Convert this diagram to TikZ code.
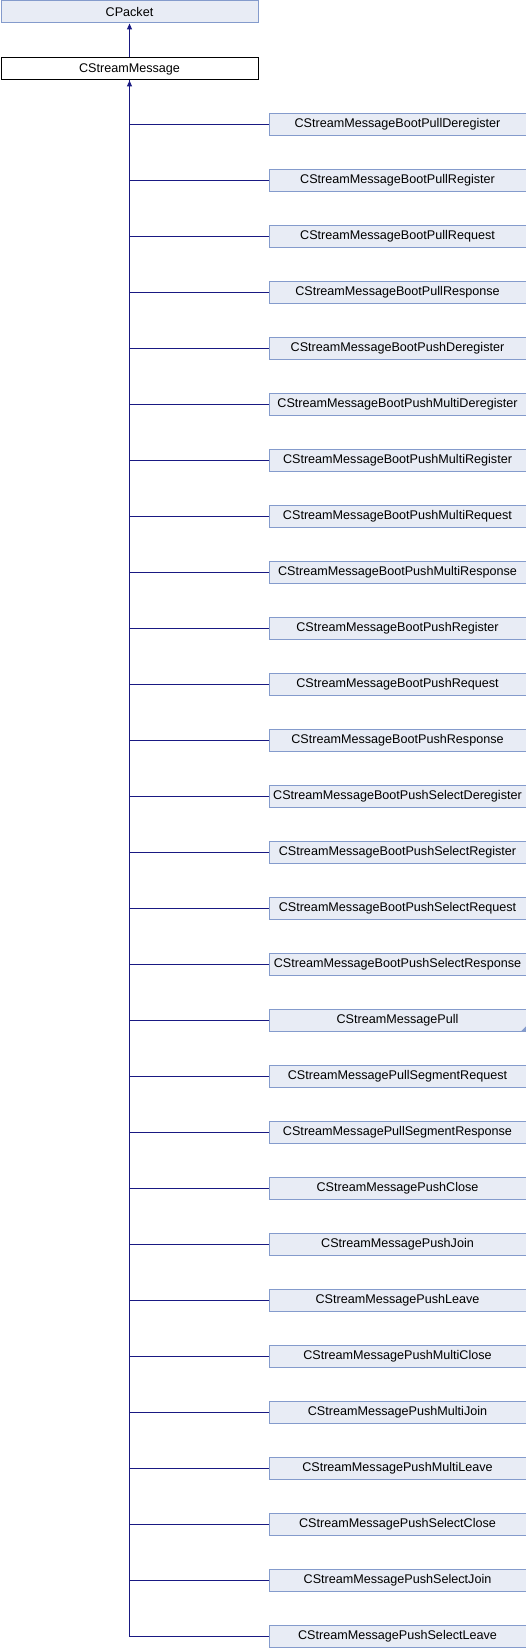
\documentclass[tikz,border=0pt]{standalone}
\usepackage{fontspec}
\setmainfont{Liberation Sans}
\usetikzlibrary{arrows.meta}
\definecolor{boxfill}{RGB}{232,236,245}
\definecolor{boxline}{RGB}{132,155,204}
\definecolor{edgecol}{RGB}{25,25,130}
\tikzset{
  cls/.style={draw=boxline, fill=boxfill, line width=1pt, minimum width=257pt, minimum height=22pt, inner sep=0pt, font=\fontsize{12.6}{14}\selectfont},
  cur/.style={draw=black, fill=white, line width=1pt, minimum width=257pt, minimum height=22pt, inner sep=0pt, font=\fontsize{12.6}{14}\selectfont},
  edge/.style={draw=edgecol, line width=1pt, -{Triangle[length=6pt,width=5pt]}},
  link/.style={draw=edgecol, line width=1pt}
}
\begin{document}
\begin{tikzpicture}[x=1pt,y=1pt]
\useasboundingbox (0,0) rectangle (526,-1648);
\node[cls, anchor=north west] (cp) at (0.5,-0.5) {CPacket};
\node[cur, anchor=north west] (sm) at (0.5,-57.5) {CStreamMessage};
\draw[edge] (sm.north) -- (cp.south);
\foreach \nm [count=\i from 0] in {BootPullDeregister,BootPullRegister,BootPullRequest,BootPullResponse,BootPushDeregister,BootPushMultiDeregister,BootPushMultiRegister,BootPushMultiRequest,BootPushMultiResponse,BootPushRegister,BootPushRequest,BootPushResponse,BootPushSelectDeregister,BootPushSelectRegister,BootPushSelectRequest,BootPushSelectResponse,Pull,PullSegmentRequest,PullSegmentResponse,PushClose,PushJoin,PushLeave,PushMultiClose,PushMultiJoin,PushMultiLeave,PushSelectClose,PushSelectJoin,PushSelectLeave}{
  \node[cls, anchor=north west] (c\i) at (268.5,{-112.8-56*\i}) {CStreamMessage\nm};
}
\foreach \i in {0,...,26}{
  \draw[link] (c\i.west) -| (sm.south);
}
\draw[edge] (c27.west) -| (sm.south);
\fill[boxline] (c16.south east) -- ++(-6,0) -- ++(6,6) -- cycle;
\end{tikzpicture}
\end{document}
